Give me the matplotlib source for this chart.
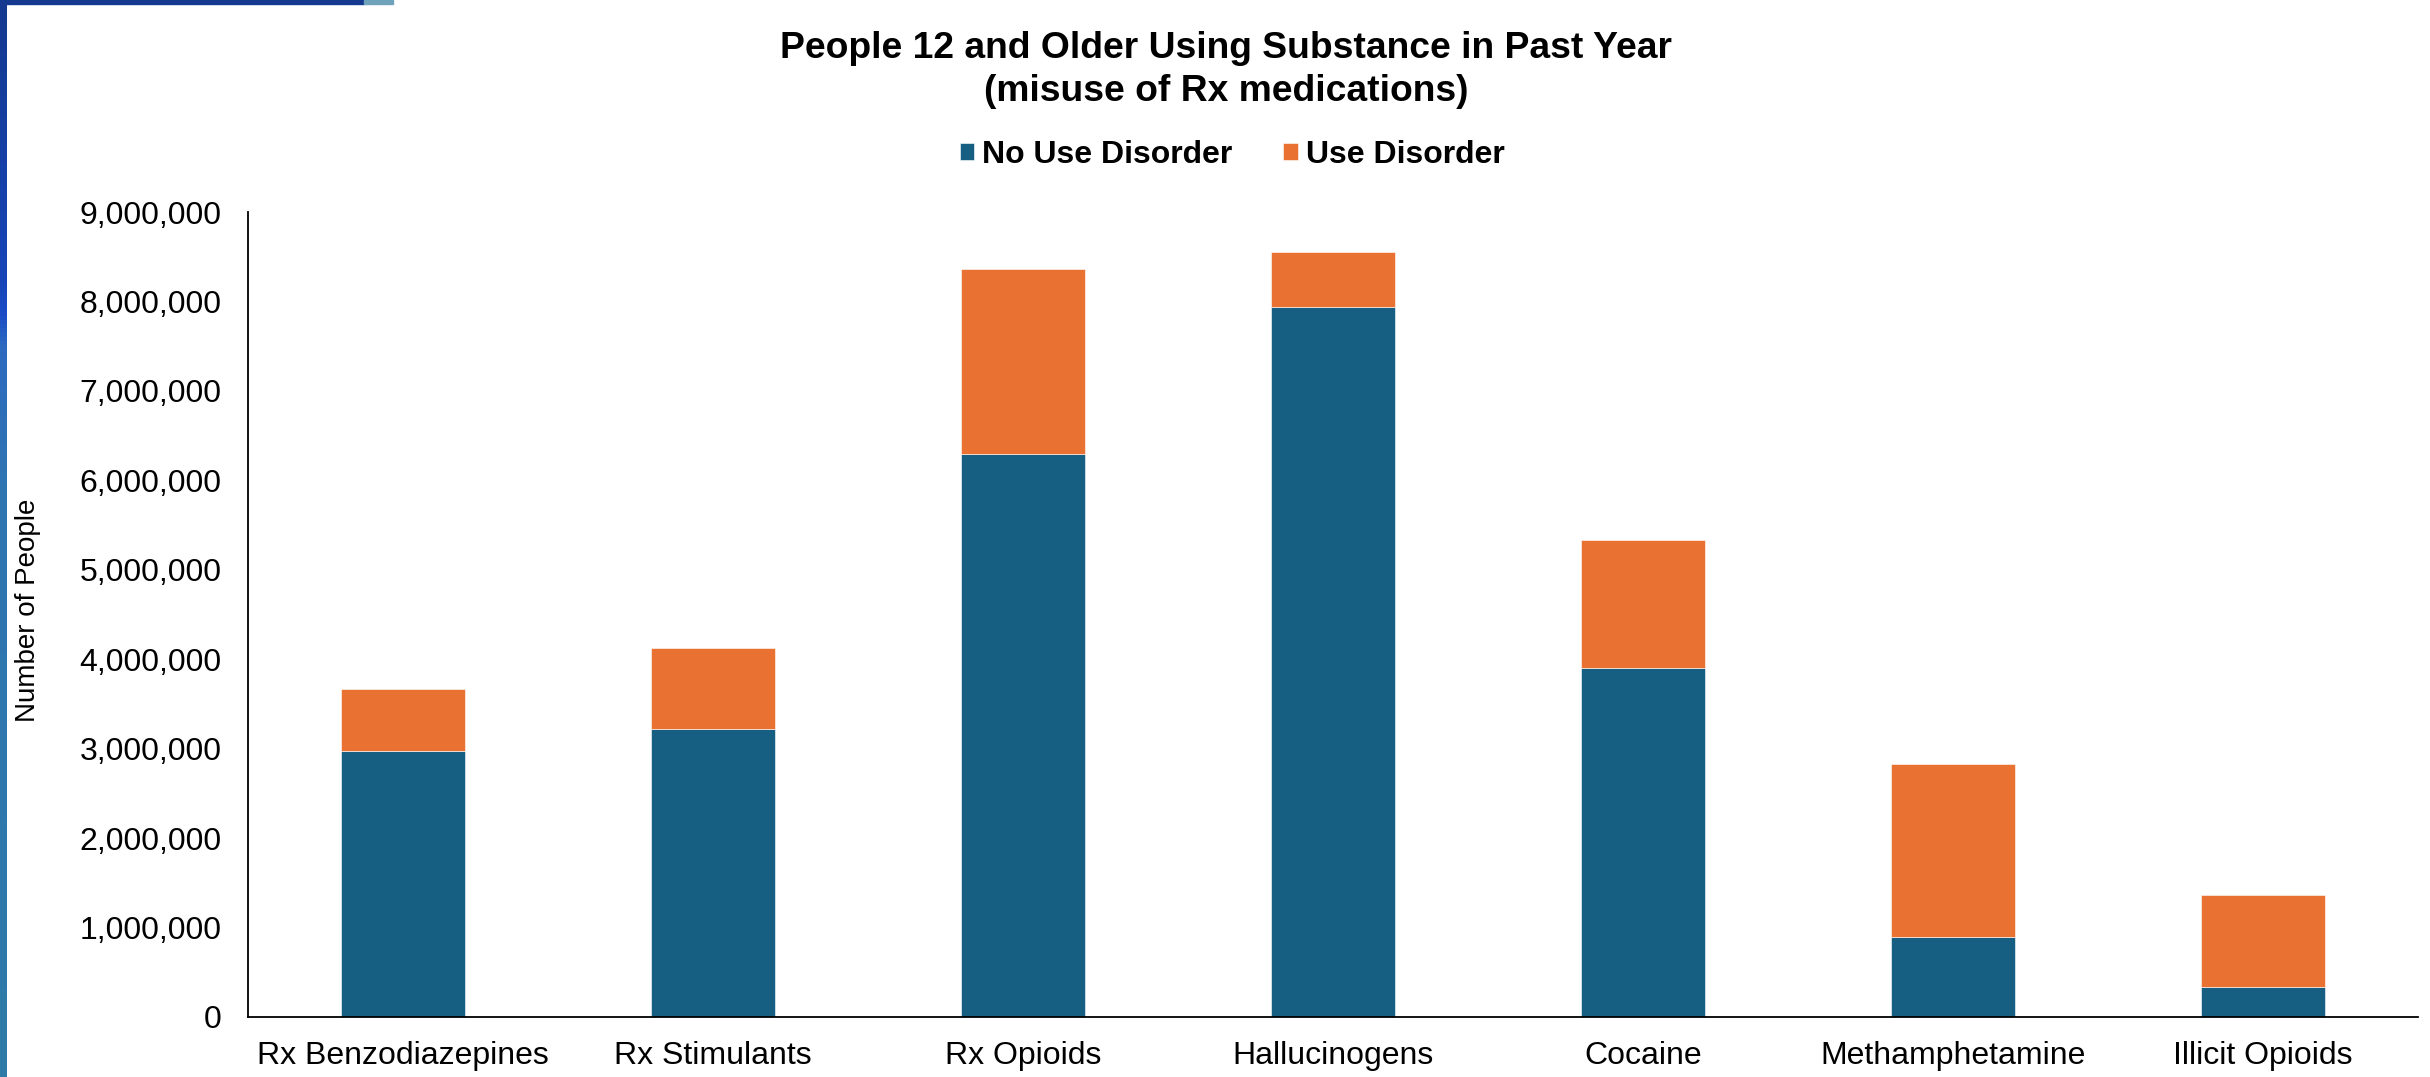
import matplotlib.pyplot as plt
import numpy as np
from matplotlib.colors import LinearSegmentedColormap
from matplotlib.patches import Rectangle
from matplotlib.ticker import FuncFormatter

# Past-year users, age 12+
categories = ['Rx Benzodiazepines', 'Rx Stimulants', 'Rx Opioids', 'Hallucinogens',
              'Cocaine', 'Methamphetamine', 'Illicit Opioids']
no_use_disorder = [2970000, 3220000, 6300000, 7940000, 3900000, 900000, 340000]
use_disorder = [700000, 910000, 2060000, 610000, 1430000, 1925000, 1020000]

blue = '#175f82'
orange = '#e97132'

plt.rcParams['font.family'] = ['Liberation Sans', 'DejaVu Sans']

fig = plt.figure(figsize=(24.3, 10.77), dpi=100)
fig.patch.set_facecolor('white')

ax = fig.add_axes([248 / 2430, 1 - 1017 / 1077, 2170 / 2430, 805 / 1077])
x = np.arange(len(categories))
ax.bar(x, no_use_disorder, width=0.4, color=blue, edgecolor='white', linewidth=0.4,
       label='No Use Disorder', zorder=2)
ax.bar(x, use_disorder, width=0.4, bottom=no_use_disorder, color=orange,
       edgecolor='white', linewidth=0.4, label='Use Disorder', zorder=2)

ax.set_xlim(-0.5, len(categories) - 0.5)
ax.set_ylim(0, 9000000)
ax.set_yticks(np.arange(0, 9000001, 1000000))
ax.yaxis.set_major_formatter(FuncFormatter(lambda v, p: f'{int(v):,}'))
ax.set_xticks(x)
ax.set_xticklabels(categories)
ax.tick_params(axis='y', length=0, pad=19, labelsize=23)
ax.tick_params(axis='x', length=0, pad=17, labelsize=23)
for side in ['top', 'right']:
    ax.spines[side].set_visible(False)
for side in ['left', 'bottom']:
    ax.spines[side].set_linewidth(1.3)
    ax.spines[side].set_color('black')

fig.text(28 / 2430, 1 - 610 / 1077, 'Number of People', rotation=90,
         ha='center', va='center', fontsize=20)

fig.text(1226 / 2430, 1 - 70 / 1077,
         'People 12 and Older Using Substance in Past Year\n(misuse of Rx medications)',
         ha='center', va='center', fontsize=26.8, fontweight='bold', linespacing=1.28)

leg = fig.legend(loc='center', bbox_to_anchor=(1232 / 2430, 1 - 155 / 1077), ncol=2,
                 frameon=False, handlelength=0.45, handleheight=0.45, handletextpad=0.25,
                 columnspacing=1.6, prop={'weight': 'bold', 'size': 23})

# slide frame: gradient stripe on the left and a bar along the top
stripe = LinearSegmentedColormap.from_list(
    'stripe', [(0.0, '#14398f'), (0.26, '#1745b8'), (0.29, '#1a4bc6'),
               (0.32, '#2d6ac0'), (0.45, '#2f74b2'), (1.0, '#2e7ba8')])
sax = fig.add_axes([0, 0, 7 / 2430, 1])
sax.imshow(np.linspace(0, 1, 256).reshape(-1, 1), aspect='auto', cmap=stripe)
sax.axis('off')

fig.patches.append(Rectangle((0, 1 - 4 / 1077), 364 / 2430, 4 / 1077,
                             transform=fig.transFigure, color='#14398f'))
fig.patches.append(Rectangle((364 / 2430, 1 - 4 / 1077), 29 / 2430, 4 / 1077,
                             transform=fig.transFigure, color='#6fa3bb'))

fig.savefig('out.png', dpi=100, facecolor='white')
